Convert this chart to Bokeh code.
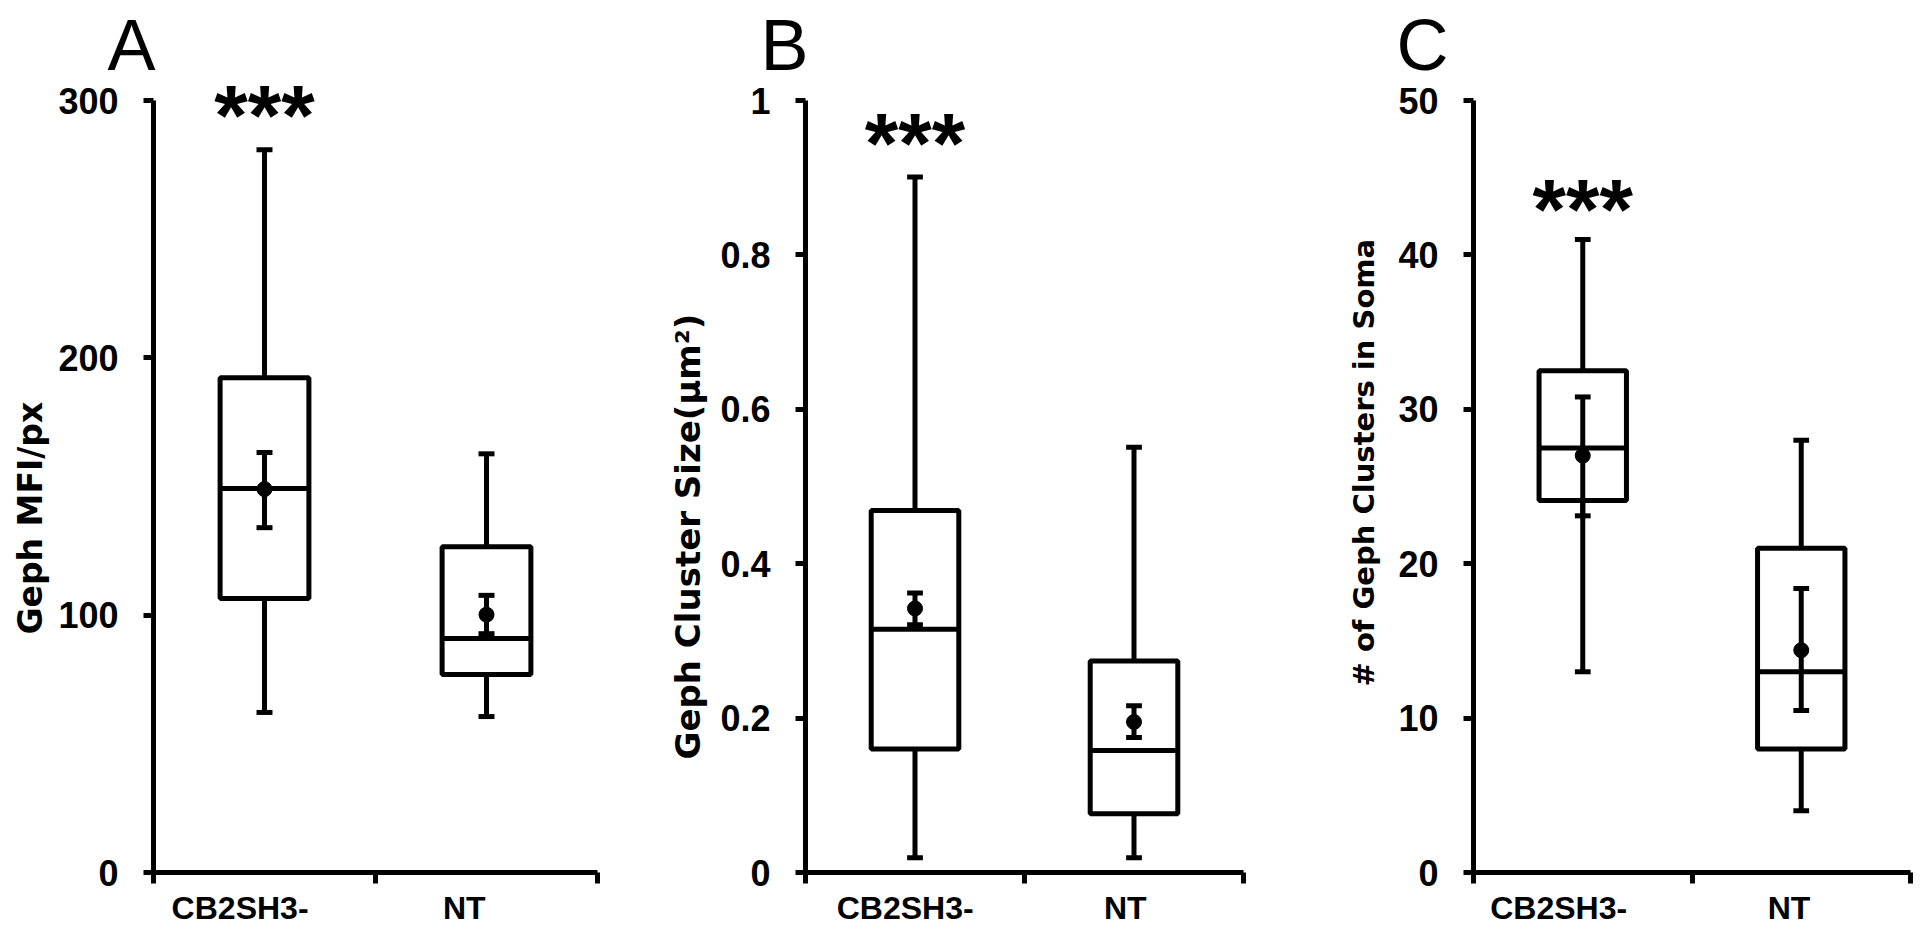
from bokeh.plotting import figure
from bokeh.models import FixedTicker, Range1d, Label, Title
from bokeh.layouts import row
from bokeh.embed import file_html
from bokeh.resources import INLINE

categories = ["CB2SH3-", "NT"]

# Panel A: Geph MFI/px
a_min = [62.2, 60.6]
a_q1 = [106.5, 76.9]
a_med = [149.2, 90.9]
a_q3 = [192.3, 126.6]
a_max = [280.9, 162.7]
a_mean = [149.0, 100.2]
a_err_lo = [134.0, 92.8]
a_err_hi = [163.2, 107.7]
a_ticks = [0, 100, 200, 300]

# Panel B: Geph Cluster Size (um^2)
b_min = [0.019, 0.019]
b_q1 = [0.160, 0.076]
b_med = [0.315, 0.158]
b_q3 = [0.469, 0.274]
b_max = [0.901, 0.551]
b_mean = [0.342, 0.195]
b_err_lo = [0.321, 0.175]
b_err_hi = [0.362, 0.216]
b_ticks = [0, 0.2, 0.4, 0.6, 0.8, 1]

# Panel C: # of Geph Clusters in Soma
c_min = [13.0, 4.0]
c_q1 = [24.1, 8.0]
c_med = [27.5, 13.0]
c_q3 = [32.5, 21.0]
c_max = [41.0, 28.0]
c_mean = [27.0, 14.4]
c_err_lo = [23.1, 10.5]
c_err_hi = [30.8, 18.4]
c_ticks = [0, 10, 20, 30, 40, 50]

# significance marks (first group only)
star_text = "***"
a_star_y = 294.5
b_star_y = 0.945
c_star_y = 43.0

BOLD = "Liberation Sans"
WIDE = "DejaVu Sans"

FRAME_TOP = 84      # px from top of figure
AXIS_PX = 772       # px between 0 and the top tick


def make_panel(letter, ylabel, ylabel_font, ylabel_size, ylabel_offset, ylabel_standoff,
               ticks, overrides, mn, q1, med, q3, mx, mean, lo, hi, star_y,
               letter_offset, width, left, frame_w, label_shift):
    ymax = ticks[-1]
    right = width - left - frame_w
    frame_h = AXIS_PX + (100 - FRAME_TOP)
    y_end = ymax * frame_h / AXIS_PX
    p = figure(width=width, height=FRAME_TOP + frame_h + 62, x_range=Range1d(0, len(categories)),
               y_range=Range1d(0, y_end), output_backend="svg", toolbar_location=None,
               min_border_left=left, min_border_right=right, min_border_top=FRAME_TOP,
               min_border_bottom=62)
    p.outline_line_color = None
    p.xgrid.grid_line_color = None
    p.ygrid.grid_line_color = None
    p.background_fill_color = "white"
    p.border_fill_color = "white"

    # panel letter
    p.title.text = letter
    p.title.text_font = BOLD
    p.title.text_font_style = "normal"
    p.title.text_font_size = "72px"
    p.title.text_line_height = 0.6
    p.title.text_color = "black"
    p.title.align = "left"
    p.title.offset = letter_offset
    p.title.standoff = 0

    xs = [i + 0.5 for i in range(len(categories))]
    hw = 0.2
    cw = 0.036
    lw = 5

    # whiskers
    p.segment(x0=xs, y0=q3, x1=xs, y1=mx, line_color="black", line_width=lw)
    p.segment(x0=xs, y0=q1, x1=xs, y1=mn, line_color="black", line_width=lw)
    p.segment(x0=[x - cw for x in xs], y0=mx, x1=[x + cw for x in xs], y1=mx,
              line_color="black", line_width=lw)
    p.segment(x0=[x - cw for x in xs], y0=mn, x1=[x + cw for x in xs], y1=mn,
              line_color="black", line_width=lw)
    # boxes
    p.quad(left=[x - hw for x in xs], right=[x + hw for x in xs], bottom=q1, top=q3,
           fill_color="white", line_color="black", line_width=lw)
    # median
    p.segment(x0=[x - hw for x in xs], y0=med, x1=[x + hw for x in xs], y1=med,
              line_color="black", line_width=lw)
    # mean +/- error
    p.segment(x0=xs, y0=lo, x1=xs, y1=hi, line_color="black", line_width=lw)
    p.segment(x0=[x - cw for x in xs], y0=lo, x1=[x + cw for x in xs], y1=lo,
              line_color="black", line_width=lw)
    p.segment(x0=[x - cw for x in xs], y0=hi, x1=[x + cw for x in xs], y1=hi,
              line_color="black", line_width=lw)
    p.scatter(x=xs, y=mean, size=15, marker="circle", fill_color="black", line_color="black")

    # y axis (line stops at the top tick)
    ya = p.yaxis[0]
    ya.bounds = (0, ymax)
    ya.ticker = FixedTicker(ticks=ticks, minor_ticks=[])
    if overrides:
        ya.major_label_overrides = overrides
    ya.axis_line_width = lw
    ya.major_tick_line_width = lw
    ya.major_tick_out = 10
    ya.major_tick_in = 0
    ya.minor_tick_line_color = None
    ya.major_label_standoff = 25
    ya.major_label_text_font = BOLD
    ya.major_label_text_font_style = "bold"
    ya.major_label_text_font_size = "36px"
    ya.major_label_text_color = "black"

    # y axis title, placed as a side title so it can sit off-centre like the original
    yt = Title(text=ylabel, align="left", offset=ylabel_offset, standoff=ylabel_standoff,
               text_font=ylabel_font, text_font_style="bold", text_font_size=ylabel_size,
               text_color="black")
    p.add_layout(yt, "left")

    # x axis: labels under categories, ticks at category boundaries
    xa = p.xaxis[0]
    label_pos = [x + s for x, s in zip(xs, label_shift)]
    xa.ticker = FixedTicker(ticks=label_pos, minor_ticks=list(range(len(categories) + 1)))
    xa.major_label_overrides = {x: c for x, c in zip(label_pos, categories)}
    xa.axis_line_width = lw
    xa.major_tick_line_color = None
    xa.major_tick_out = 0
    xa.major_tick_in = 0
    xa.minor_tick_line_width = lw
    xa.minor_tick_out = 11
    xa.minor_tick_in = 0
    xa.major_label_standoff = 6
    xa.major_label_text_font = BOLD
    xa.major_label_text_font_style = "bold"
    xa.major_label_text_font_size = "32px"
    xa.major_label_text_color = "black"

    p.add_layout(Label(x=xs[0], y=star_y, text=star_text, text_align="center",
                       text_baseline="alphabetic", text_font=BOLD, text_font_style="bold",
                       text_font_size="86px", text_color="black"))
    return p


pa = make_panel("A", "Geph MFI/px", WIDE, "33px", 238, 12,
                a_ticks, None, a_min, a_q1, a_med, a_q3, a_max,
                a_mean, a_err_lo, a_err_hi, a_star_y, -46, 650, 153, 444, [-0.11, -0.10])
pb = make_panel("B", "Geph Cluster Size(\u03bcm\u00b2)", WIDE, "34px", 113, 20,
                b_ticks, {0: "0", 1: "1"},
                b_min, b_q1, b_med, b_q3, b_max, b_mean, b_err_lo, b_err_hi, b_star_y,
                -45, 670, 155, 438, [-0.045, -0.04])
pc = make_panel("C", "# of Geph Clusters in Soma", WIDE, "29px", 186, 30,
                c_ticks, None, c_min, c_q1, c_med, c_q3,
                c_max, c_mean, c_err_lo, c_err_hi, c_star_y, -77, 596, 153, 437, [-0.11, -0.056])

layout = row(pa, pb, pc)
open("out.html", "w").write(file_html(layout, INLINE))
